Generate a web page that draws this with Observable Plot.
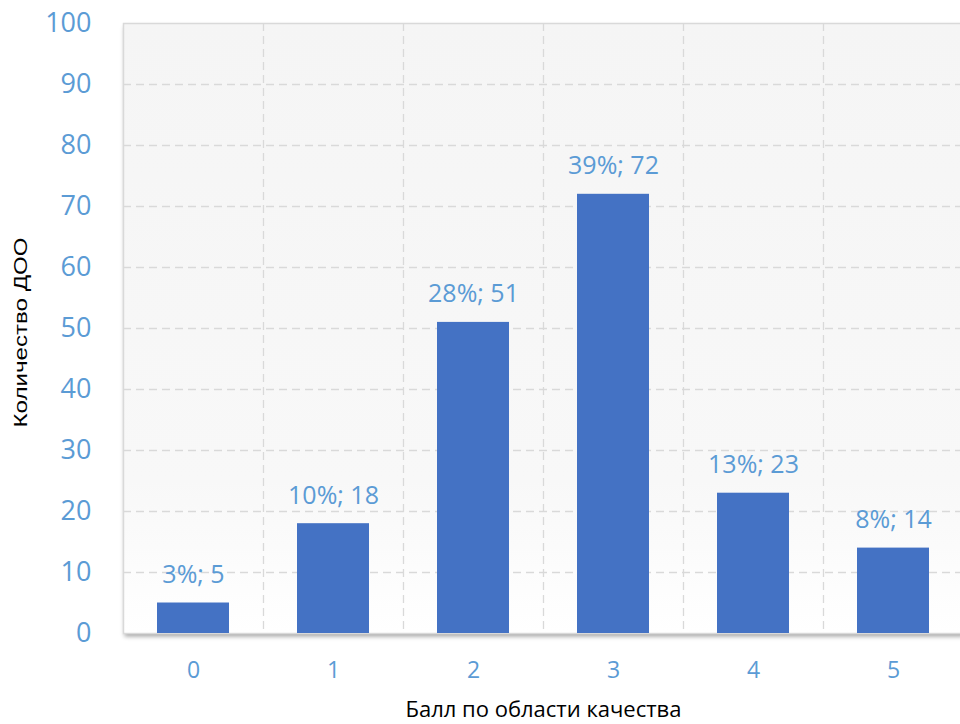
<!DOCTYPE html>
<html><head><meta charset="utf-8">
<script src="https://cdn.jsdelivr.net/npm/d3@7"></script>
<script src="https://cdn.jsdelivr.net/npm/@observablehq/plot@0.6"></script>
<style>html,body{margin:0;padding:0;background:#fff}</style>
</head><body><div id="chart"></div>
<script>
const categories = ["0", "1", "2", "3", "4", "5"];
const counts = [5, 18, 51, 72, 23, 14];
const percents = [3, 10, 28, 39, 13, 8];
const yTicks = [0, 10, 20, 30, 40, 50, 60, 70, 80, 90, 100];
const xTitle = "Балл по области качества";
const yTitle = "Количество ДОО";

const data = categories.map((c, i) => ({score: c, count: counts[i], pct: percents[i]}));
const barBlue = "#4472c4", labelBlue = "#5b9bd5", gridGray = "#d9d9d9";

const chart = Plot.plot({
  width: 960, height: 724,
  marginTop: 23, marginBottom: 91, marginLeft: 123, marginRight: -3,
  style: {fontFamily: "'Open Sans', sans-serif", background: "transparent", overflow: "hidden"},
  x: {domain: categories, padding: 0},
  y: {domain: [0, 100]},
  marks: [
    Plot.frame({fill: "url(#plotBg)", stroke: "none"}),
    Plot.ruleY(yTicks.slice(1, -1), {stroke: gridGray, strokeWidth: 1.3, strokeDasharray: "8,5"}),
    Plot.ruleX(categories.slice(1), {x: d => d, dx: -70, stroke: gridGray, strokeWidth: 1.3, strokeDasharray: "8,5"}),
    Plot.frame({stroke: gridGray, strokeWidth: 1.5, fill: "none"}),
    Plot.axisY(yTicks, {tickSize: 0, tickPadding: 32, fontSize: 27, color: labelBlue, label: null}),
    Plot.axisX({tickSize: 0, tickPadding: 28, fontSize: 23, color: labelBlue, label: null}),
    Plot.barY(data, {x: "score", y: "count", fill: barBlue, insetLeft: 34, insetRight: 34}),
    Plot.text(data, {x: "score", y: "count", text: d => `${d.pct}%; ${d.count}`, dy: -28, fill: labelBlue, fontSize: 25, lineAnchor: "middle"}),
    Plot.text([xTitle], {text: d => d, frameAnchor: "bottom", dy: 76, fontSize: 22, fill: "#000", lineAnchor: "middle"}),
    Plot.text([yTitle], {text: d => d, frameAnchor: "left", textAnchor: "middle", dx: -103, dy: 4, rotate: -90, fontSize: 19, fill: "#000", fontFamily: "'Liberation Sans', Arial, sans-serif", lineAnchor: "middle"})
  ]
});

const svg = d3.select(chart);
const defs = svg.insert("defs", ":first-child");
const grad = defs.append("linearGradient").attr("id", "plotBg").attr("x1", 0).attr("y1", 0).attr("x2", 0).attr("y2", 1);
grad.append("stop").attr("offset", "0%").attr("stop-color", "#f5f5f5");
grad.append("stop").attr("offset", "75%").attr("stop-color", "#f8f8f8");
grad.append("stop").attr("offset", "100%").attr("stop-color", "#ffffff");
const filt = defs.append("filter").attr("id", "shadow").attr("x", "-5%").attr("y", "-5%").attr("width", "110%").attr("height", "110%");
filt.append("feDropShadow").attr("dx", 1).attr("dy", 3).attr("stdDeviation", 2).attr("flood-color", "#000").attr("flood-opacity", 0.35);
svg.select('[aria-label="frame"]').attr("filter", "url(#shadow)");
svg.selectAll("text").filter(function () { return this.textContent === yTitle; })
  .attr("textLength", 190).attr("lengthAdjust", "spacingAndGlyphs");

document.getElementById("chart").appendChild(chart);
</script>
</body></html>
